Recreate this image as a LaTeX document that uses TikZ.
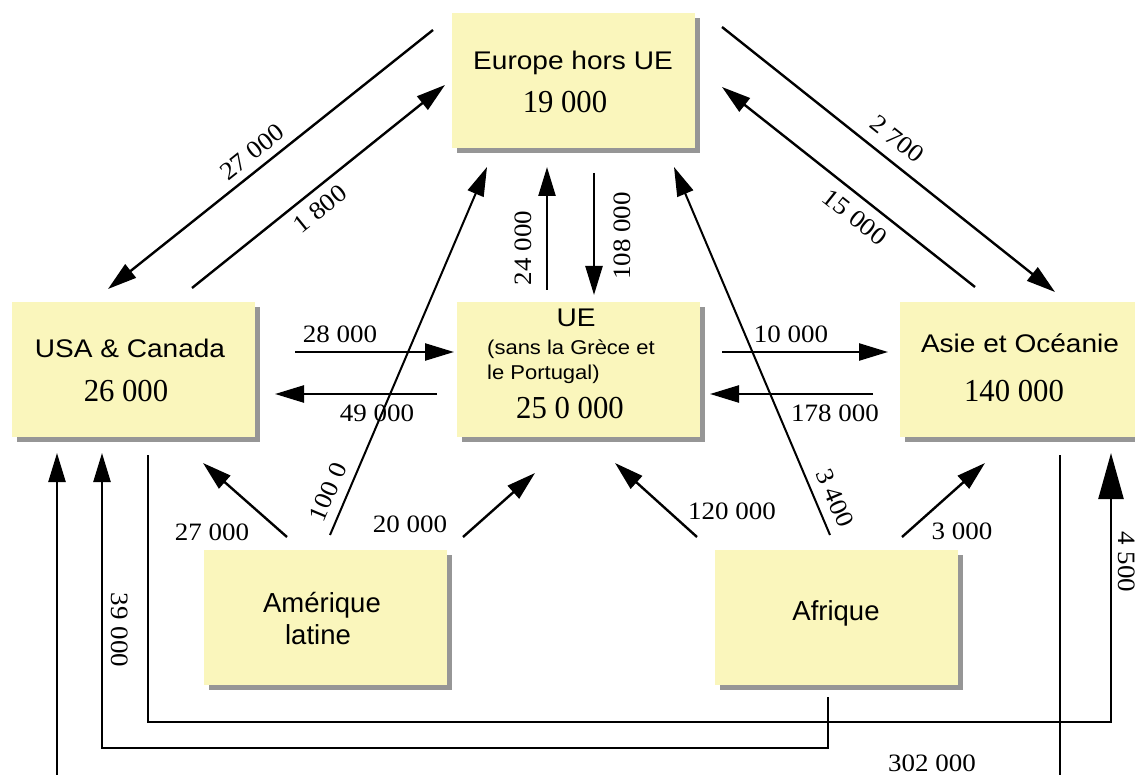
\documentclass[tikz,border=0pt]{standalone}
\usepackage{fontspec}
\setmainfont{Liberation Serif}
\newfontfamily\titlef[FakeStretch=1.1]{Liberation Sans}
\newfontfamily\lowf{Liberation Sans}
\newfontfamily\numf[FakeStretch=1.08]{Liberation Serif}
\newfontfamily\bignumf[FakeStretch=0.96]{Liberation Serif}
\usetikzlibrary{arrows.meta,shadows}
\definecolor{boxfill}{RGB}{250,246,188}
\definecolor{shadowgray}{RGB}{150,150,150}
\tikzset{
  box/.style={fill=boxfill, minimum width=243pt, minimum height=135pt, inner sep=0pt,
    general shadow={fill=shadowgray, shadow xshift=5pt, shadow yshift=-5pt}},
  ttl/.style={inner sep=0pt, anchor=base, font=\titlef\fontsize{25.5}{28}\selectfont},
  lowttl/.style={inner sep=0pt, anchor=base, font=\lowf\fontsize{27.5}{30}\selectfont},
  bignum/.style={inner sep=0pt, anchor=base, font=\bignumf\fontsize{32}{34}\selectfont},
  sub/.style={inner sep=0pt, anchor=base west, font=\titlef\fontsize{20}{22}\selectfont},
  lbl/.style={inner sep=0pt, font=\numf\fontsize{25}{27}\selectfont},
  flow/.style={line width=2.4pt, -{Triangle[length=29pt,width=17pt]}},
  bigflow/.style={line width=2.4pt, -{Triangle[length=46pt,width=25pt]}},
  plain/.style={line width=2.4pt}
}
\begin{document}
\begin{tikzpicture}[x=1pt,y=-1pt]
\useasboundingbox (0,0) rectangle (1135,775);
\clip (0,0) rectangle (1135,775);
\fill[white] (0,0) rectangle (1135,775);

% boxes
\node[box] (eu)   at (573.5,80.5) {};
\node[box] (usa)  at (133.5,369.5) {};
\node[box] (ue)   at (578.5,369.5) {};
\node[box] (asie) at (1021.5,369.5) {};
\node[box] (amer) at (325,617.5) {};
\node[box] (afr)  at (836.5,617.5) {};

% box texts
\node[ttl] (teu) at (573,70) {Europe hors UE};
\node[bignum] (neu) at (565,113) {19 000};
\node[ttl] (tusa) at (130,358) {USA \& Canada};
\node[bignum] (nusa) at (126,402) {26 000};
\node[ttl] (tue) at (576,327) {UE};
\node[sub] (sue1) at (487,355) {(sans la Grèce et};
\node[sub] (sue2) at (487,380) {le Portugal)};
\node[bignum] (nue) at (570,418) {25 0 000};
\node[ttl] (tasie) at (1020,353) {Asie et Océanie};
\node[bignum] (nasie) at (1014,402) {140 000};
\node[lowttl] (tam1) at (322,612) {Amérique};
\node[lowttl] (tam2) at (318,644) {latine};
\node[lowttl] (tafr) at (836,620) {Afrique};

% endpoints
\coordinate (s1) at (433,30);   \coordinate (e1) at (108,289);
\coordinate (s2) at (192,288);  \coordinate (e2) at (445,85);
\coordinate (s3) at (722,27);   \coordinate (e3) at (1055,292);
\coordinate (s4) at (975,287);  \coordinate (e4) at (722,87);
\coordinate (s5) at (547,290);  \coordinate (e5) at (547,167);
\coordinate (s6) at (594,173);  \coordinate (e6) at (594,295);
\coordinate (s7) at (295,352);  \coordinate (e7) at (454,352);
\coordinate (s8) at (437,394);  \coordinate (e8) at (275,394);
\coordinate (s9) at (722,352);  \coordinate (e9) at (888,352);
\coordinate (s10) at (873,394); \coordinate (e10) at (710,394);
\coordinate (s11) at (330,535); \coordinate (e11) at (487,167);
\coordinate (s12) at (830,535); \coordinate (e12) at (674,167);
\coordinate (s13) at (287,537); \coordinate (e13) at (203,463);
\coordinate (s14) at (463,537); \coordinate (e14) at (535,473);
\coordinate (s15) at (697,537); \coordinate (e15) at (615,463);
\coordinate (s16) at (902,537); \coordinate (e16) at (985,463);
\coordinate (s17) at (828,697); \coordinate (e17) at (102,453);
\coordinate (s18) at (148,455); \coordinate (e18) at (1111,453);
\coordinate (s19) at (1060,455); \coordinate (m19) at (1060,790);
\coordinate (n19) at (57,790);  \coordinate (e19) at (57,453);

% arrows
\draw[flow] (s1) -- (e1);
\draw[flow] (s2) -- (e2);
\draw[flow] (s3) -- (e3);
\draw[flow] (s4) -- (e4);
\draw[flow] (s5) -- (e5);
\draw[flow] (s6) -- (e6);
\draw[flow] (s7) -- (e7);
\draw[flow] (s8) -- (e8);
\draw[flow] (s9) -- (e9);
\draw[flow] (s10) -- (e10);
\draw[flow,line width=2pt] (s11) -- (e11);
\draw[flow,line width=2pt] (s12) -- (e12);
\draw[flow] (s13) -- (e13);
\draw[flow] (s14) -- (e14);
\draw[flow] (s15) -- (e15);
\draw[flow] (s16) -- (e16);
\draw[flow] (s17) -- (828,748) -- (102,748) -- (e17);
\draw[bigflow] (s18) -- (148,722) -- (1111,722) -- (e18);
\draw[plain] (s19) -- (m19);
\draw[flow] (n19) -- (e19);

% labels
\node[lbl,rotate=38.5] (l1) at (252,152) {27 000};
\node[lbl,rotate=39] (l2) at (320,209) {1 800};
\node[lbl,rotate=-38.5] (l3) at (897,139) {2 700};
\node[lbl,rotate=-38.5] (l4) at (855,217) {15 000};
\node[lbl,rotate=90] (l5) at (523,248) {24 000};
\node[lbl,rotate=90] (l6) at (622,236) {108 000};
\node[lbl] (l7) at (340,334) {28 000};
\node[lbl] (l8) at (377,413) {49 000};
\node[lbl] (l9) at (791,334) {10 000};
\node[lbl] (l10) at (835,413) {178 000};
\node[lbl,rotate=67] (l11) at (328,492) {100 0};
\node[lbl,rotate=-67] (l12) at (835,498) {3 400};
\node[lbl] (l13) at (212,532) {27 000};
\node[lbl] (l14) at (410,524) {20 000};
\node[lbl] (l15) at (732,511) {120 000};
\node[lbl] (l16) at (962,531) {3 000};
\node[lbl] (l17) at (932,763) {302 000};
\node[lbl,rotate=-90] (l18) at (120,630) {39 000};
\node[lbl,rotate=-90] (l19) at (1127,562) {4 500};
\end{tikzpicture}
\end{document}
